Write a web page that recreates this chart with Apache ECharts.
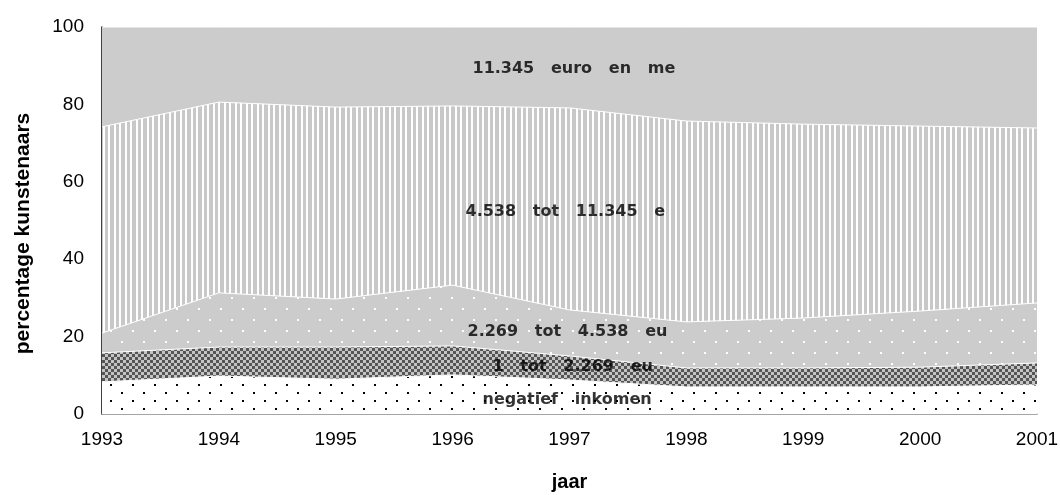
<!DOCTYPE html>
<html>
<head>
<meta charset="utf-8">
<title>percentage kunstenaars</title>
<script src="https://cdn.jsdelivr.net/npm/echarts@6/dist/echarts.min.js"></script>
<style>
    html, body { margin: 0; padding: 0; background: #fff; }
    #myChart { width: 1060px; height: 495px; }
</style>
</head>
<body>
<div id="myChart"></div>
<script>
// 数据
var years = ['1993', '1994', '1995', '1996', '1997', '1998', '1999', '2000', '2001'];
var seriesNames = ['negatief inkomen', '1 tot 2.269 euro', '2.269 tot 4.538 euro', '4.538 tot 11.345 euro', '11.345 euro en meer'];
var negatief = [8.3, 9.8, 9.0, 10.1, 8.8, 7.0, 7.0, 7.0, 7.5];
var tot2269 = [7.5, 7.5, 8.3, 7.5, 6.2, 4.9, 4.9, 5.1, 5.7];
var tot4538 = [5.1, 14.0, 12.4, 15.7, 11.9, 11.9, 12.9, 14.5, 15.5];
var tot11345 = [53.3, 49.3, 49.6, 46.3, 52.2, 51.9, 50.1, 47.8, 45.2];
var meer = [25.8, 19.4, 20.7, 20.4, 20.9, 24.3, 25.1, 25.6, 26.1];
var yTicks = [0, 20, 40, 60, 80, 100];
// 区域内的文字（图中被截断）
var areaLabels = ['negatief   inkomen', '1   tot   2.269   eu', '2.269   tot   4.538   eu', '4.538   tot   11.345   e', '11.345   euro   en   me'];
var labelYear = '1997';
var labelValues = [3.6, 12.1, 21.2, 52.2, 89.1];

// 填充图案
function makePattern(w, h, bg, draw) {
    var c = document.createElement('canvas');
    c.width = w;
    c.height = h;
    var ctx = c.getContext('2d');
    ctx.fillStyle = bg;
    ctx.fillRect(0, 0, w, h);
    draw(ctx);
    return { image: c, repeat: 'repeat' };
}
var dotsBlack = makePattern(22, 16, '#ffffff', function (ctx) {
    ctx.fillStyle = '#000';
    ctx.fillRect(0, 0, 2, 2);
    ctx.fillRect(11, 8, 2, 2);
});
var checker = makePattern(6, 6, '#c4c4c4', function (ctx) {
    ctx.fillStyle = '#555555';
    ctx.fillRect(0, 0, 3, 3);
    ctx.fillRect(3, 3, 3, 3);
});
var dotsWhite = makePattern(22, 22, '#cccccc', function (ctx) {
    ctx.fillStyle = '#fff';
    ctx.fillRect(0, 0, 2, 2);
    ctx.fillRect(11, 11, 2, 2);
});
var stripes = makePattern(11, 6, '#ffffff', function (ctx) {
    ctx.fillStyle = '#c8c8c8';
    ctx.fillRect(0, 0, 4, 6);
    ctx.fillRect(6, 0, 3, 6);
});
var solid = '#cccccc';

var fills = [dotsBlack, checker, dotsWhite, stripes, solid];
var values = [negatief, tot2269, tot4538, tot11345, meer];
var labelOffsets = [-87, -77, -102, -104, -97];

var series = values.map(function (v, i) {
    return {
        name: seriesNames[i],
        type: 'line',
        stack: 'total',
        data: v,
        showSymbol: false,
        symbol: 'none',
        lineStyle: { color: '#ffffff', width: 1 },
        areaStyle: { color: fills[i], opacity: 1 },
        silent: true
    };
});

// 标签用一个不可见的散点系列放置
series.push({
    type: 'scatter',
    symbolSize: 0,
    silent: true,
    z: 10,
    data: labelValues.map(function (y, i) {
        return {
            value: [labelYear, y],
            label: {
                show: true,
                position: 'inside',
                align: 'left',
                verticalAlign: 'middle',
                offset: [labelOffsets[i], 0],
                formatter: areaLabels[i],
                color: '#000',
                fontFamily: 'DejaVu Sans',
                fontWeight: 'bold',
                fontSize: 16
            }
        };
    })
});

var option = {
    backgroundColor: '#fff',
    animation: false,
    grid: { left: 102, right: 23, top: 27, bottom: 81, containLabel: false, outerBoundsMode: 'none' },
    xAxis: {
        type: 'category',
        data: years,
        boundaryGap: false,
        name: 'jaar',
        nameLocation: 'middle',
        nameGap: 58,
        nameTextStyle: { fontFamily: 'Liberation Sans', fontWeight: 'bold', fontSize: 20, color: '#000' },
        axisLine: { lineStyle: { color: '#888', width: 1.5 } },
        axisTick: { show: false },
        axisLabel: { interval: 0, margin: 16, fontFamily: 'Liberation Sans', fontSize: 19, color: '#000' }
    },
    yAxis: {
        type: 'value',
        min: yTicks[0],
        max: yTicks[yTicks.length - 1],
        interval: yTicks[1] - yTicks[0],
        name: 'percentage kunstenaars',
        nameLocation: 'middle',
        nameGap: 68,
        nameTextStyle: { fontFamily: 'Liberation Sans', fontWeight: 'bold', fontSize: 21, color: '#000', padding: [0, 26, 0, 0] },
        splitLine: { show: false },
        axisLine: { show: true, lineStyle: { color: '#000', width: 1.5 } },
        axisTick: { show: false },
        axisLabel: { margin: 18, fontFamily: 'Liberation Sans', fontSize: 19, color: '#000', padding: [0, 0, 9, 0] }
    },
    series: series
};

var myChart = echarts.init(document.getElementById('myChart'), null, { renderer: 'canvas' });
myChart.setOption(option);
window.addEventListener('resize', function () {
    myChart.resize();
});
</script>
</body>
</html>
